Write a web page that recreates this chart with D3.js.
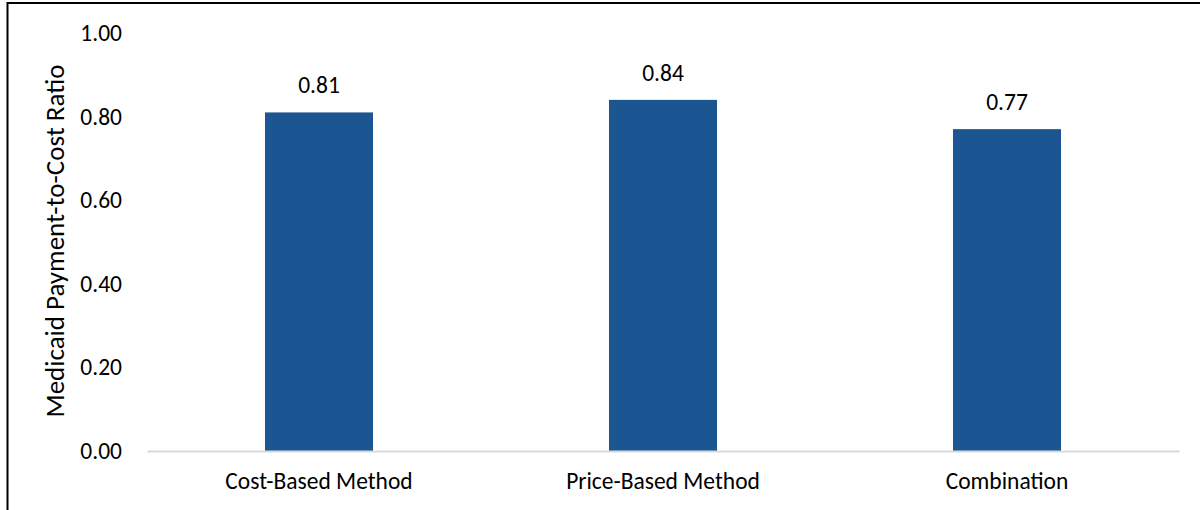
<!DOCTYPE html>
<html>
<head>
<meta charset="utf-8">
<script src="https://cdn.jsdelivr.net/npm/d3@7"></script>
<style>
  body { margin: 0; background: #fff; }
  svg { display: block; font-family: Carlito, Calibri, "Open Sans", sans-serif; }
</style>
</head>
<body>
<div id="chart"></div>
<script>
// chart data
const categories = ['Cost-Based Method', 'Price-Based Method', 'Combination'];
const ratios = [0.81, 0.84, 0.77];
const yTicks = [0, 0.2, 0.4, 0.6, 0.8, 1.0];
const yTitle = 'Medicaid Payment-to-Cost Ratio';

const width = 1200;
const height = 510;
const plotLeft = 147;
const plotRight = 1179;
const plotTop = 33;
const plotBottom = 451;
const fontFamily = 'Carlito, Calibri, "Open Sans", sans-serif';
const labelSize = 23.5;

const svg = d3.select('#chart')
  .append('svg')
  .attr('width', width)
  .attr('height', height);

// frame of the original picture (left and top edges show)
svg.append('rect')
  .attr('x', 7.5)
  .attr('y', 3)
  .attr('width', 1300)
  .attr('height', 600)
  .attr('fill', 'none')
  .attr('stroke', '#000')
  .attr('stroke-width', 2);

const x = d3.scaleBand()
  .domain(categories)
  .range([plotLeft, plotRight])
  .paddingInner(0.686)
  .paddingOuter(0.343);

const y = d3.scaleLinear()
  .domain([0, 1])
  .range([plotBottom, plotTop]);

// y axis labels, no line
const yAxis = d3.axisLeft(y)
  .tickValues(yTicks)
  .tickFormat(d3.format('.2f'))
  .tickSize(0)
  .tickPadding(25);

const yG = svg.append('g')
  .attr('transform', 'translate(' + plotLeft + ',0)')
  .call(yAxis);
yG.select('.domain').remove();
yG.selectAll('text')
  .attr('font-size', labelSize)
  .attr('fill', '#000')
  .style('font-family', fontFamily);

// bars
svg.append('g')
  .selectAll('rect')
  .data(ratios)
  .enter()
  .append('rect')
  .attr('x', (d, i) => x(categories[i]))
  .attr('y', (d) => y(d))
  .attr('width', x.bandwidth())
  .attr('height', (d) => y(0) - y(d))
  .attr('fill', '#1b5592');

// value labels
svg.append('g')
  .selectAll('text')
  .data(ratios)
  .enter()
  .append('text')
  .attr('x', (d, i) => x(categories[i]) + x.bandwidth() / 2)
  .attr('y', (d) => y(d) - 19)
  .attr('text-anchor', 'middle')
  .attr('font-size', labelSize)
  .attr('fill', '#000')
  .text((d) => d3.format('.2f')(d));

// x axis
const xAxis = d3.axisBottom(x)
  .tickSize(0)
  .tickPadding(21);

const xG = svg.append('g')
  .attr('transform', 'translate(0,' + plotBottom + ')')
  .call(xAxis);
xG.select('.domain')
  .attr('stroke', '#d9d9d9')
  .attr('stroke-width', 2);
xG.selectAll('text')
  .attr('font-size', labelSize)
  .attr('fill', '#000')
  .style('font-family', fontFamily);

// y title
svg.append('text')
  .attr('transform', 'translate(64,241) rotate(-90)')
  .attr('text-anchor', 'middle')
  .attr('font-size', 27)
  .attr('fill', '#000')
  .text(yTitle);
</script>
</body>
</html>
